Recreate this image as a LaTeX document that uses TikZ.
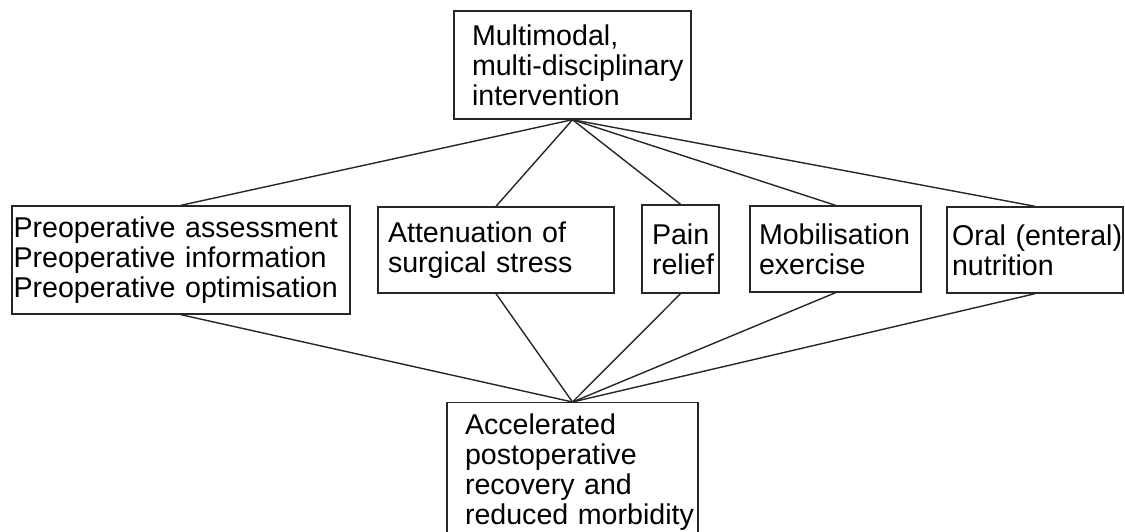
\documentclass[tikz,border=0pt]{standalone}
\usepackage{fontspec}
\setmainfont{Liberation Sans}
\hyphenpenalty=10000
\exhyphenpenalty=10000
\begin{document}
\begin{tikzpicture}[x=1pt,y=-1pt,
  box/.style={draw=black!85, line width=1.4pt, rectangle, align=left, inner ysep=0pt,
    font=\fontsize{28.6}{30}\selectfont},
  link/.style={draw=black!85, line width=1.4pt}]
\useasboundingbox (0,0) rectangle (1125,531);
\clip (0,0) rectangle (1125,531);
\node[box, minimum width=237pt, minimum height=108pt, inner xsep=18pt, text width=201pt] (top) at (572.5,65)
  {Multimodal,\\ multi-disciplinary\\ intervention};
\node[box, minimum width=338pt, minimum height=108pt, inner xsep=1.5pt, text width=335pt] (b1) at (181,260)
  {Preoperative~assessment\\ Preoperative~information\\ Preoperative~optimisation};
\node[box, minimum width=236pt, minimum height=86pt, inner xsep=10pt, text width=216pt] (b2) at (496,250)
  {Attenuation~of\\ surgical~stress};
\node[box, minimum width=77pt, minimum height=88pt, inner xsep=10pt, text width=57pt] (b3) at (680.5,249)
  {Pain\\ relief};
\node[box, minimum width=171pt, minimum height=86pt, inner xsep=9pt, text width=153pt] (b4) at (835.5,249)
  {Mobilisation\\ exercise};
\node[box, minimum width=176pt, minimum height=86pt, inner xsep=5pt, text width=166pt] (b5) at (1035,250)
  {Oral~(enteral)\\ nutrition};
\node[box, anchor=north, minimum width=251pt, inner xsep=18pt, inner ysep=11pt, text width=215pt] (bot) at (572.5,402)
  {Accelerated\\ postoperative\\ recovery~and\\ reduced~morbidity};
\foreach \b in {b1,b2,b3,b4,b5}{
  \draw[link] (top.south) -- (\b.north);
  \draw[link] (\b.south) -- (bot.north);
}
\end{tikzpicture}
\end{document}
